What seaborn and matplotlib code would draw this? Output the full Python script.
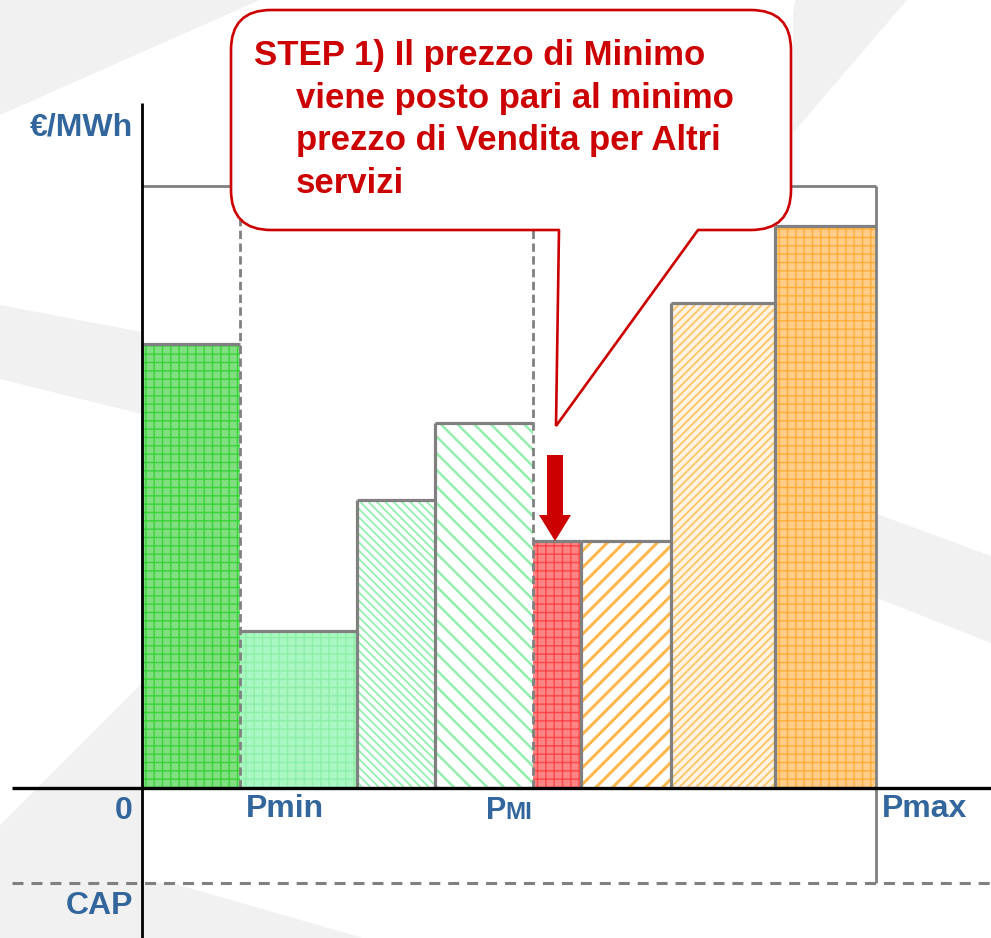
import numpy as np
import pandas as pd
import matplotlib
matplotlib.use("Agg")
import matplotlib.pyplot as plt
import seaborn as sns
from matplotlib.patches import Polygon, FancyBboxPatch, FancyArrow, Rectangle

# ---------------- data ----------------
edges = [0, 9.8, 21.5, 29.3, 39.1, 43.9, 52.9, 63.3, 73.4]          # MW (cumulative)
prices = [44.4, 15.7, 28.8, 36.5, 24.7, 24.7, 48.5, 56.2]            # €/MWh
face_colors = ['#80e080', '#abf7c2', '#ffffff', '#ffffff', '#ff8585', '#ffffff', '#fff3e2', '#ffcd88']
hatch_colors = ['#3ad23a', '#8cefa8', '#94efae', '#94efae', '#ff4545', '#ffb84d', '#ffc466', '#ffac35']
hatches = ['++', '++', '\\\\\\\\', '\\\\', '++', '//', '////', '++']
hatch_widths = [1.0, 1.0, 1.3, 1.8, 1.0, 2.2, 1.3, 1.0]
cap_top = 60.2
cap_floor = -9.5
x_labels = ['Pmin', 'Pmax']
unit_label = '€/MWh'
callout_lines = ['STEP 1) Il prezzo di Minimo', 'viene posto pari al minimo',
                 'prezzo di Vendita per Altri', 'servizi']

sns.set_theme(style='white')
plt.rcParams['font.family'] = ['Liberation Sans', 'DejaVu Sans']
plt.rcParams['hatch.linewidth'] = 1.0

fig = plt.figure(figsize=(9.91, 9.38), dpi=100)
ax = fig.add_axes([0, 0, 1, 1])
ax.set_xlim(-14.2, 84.9)
ax.set_ylim(-15.0, 78.8)
ax.set_axis_off()

# ---- light watermark swooshes ----
wm = '#f1f1f1'
for pts in [
    [(-14.2, 78.8), (11.8, 78.8), (-14.2, 67.3)],
    [(-14.2, 48.3), (0, 45.6), (73.5, 27.4), (84.9, 23.2), (84.9, 14.5), (73.5, 19.0), (0, 37.4), (-14.2, 40.9)],
    [(-14.2, -3.7), (1.0, 11.5), (3.0, -9.5), (22.1, -15.0), (-14.2, -15.0)],
    [(65.3, 78.8), (76.5, 78.8), (65.1, 65.5), (65.1, 77.3)],
]:
    ax.add_patch(Polygon(pts, closed=True, facecolor=wm, edgecolor='none', zorder=0))

# white chart area
ax.add_patch(Rectangle((edges[0], cap_floor), edges[-1] - edges[0], cap_top - cap_floor,
                       facecolor='white', edgecolor='none', zorder=0.5))

# ---- bars through seaborn (variable widths via histogram bins) ----
mids = [(a + b) / 2 for a, b in zip(edges[:-1], edges[1:])]
df = pd.DataFrame({'mw': mids, 'price': prices})
n_before = len(ax.patches)
sns.histplot(data=df, x='mw', weights='price', bins=edges, ax=ax, stat='count',
             element='bars', fill=True, linewidth=0, zorder=2)
bars = ax.patches[n_before:]
ax.set_xlim(-14.2, 84.9)
ax.set_ylim(-15.0, 78.8)
ax.set_axis_off()
for p, fc, hc, h, hw in zip(bars, face_colors, hatch_colors, hatches, hatch_widths):
    p.set_facecolor(fc)
    p.set_edgecolor(hc)
    p.set_hatch(h)
    p.set_linewidth(0)
    p.set_alpha(1)
    if hasattr(p, 'set_hatch_linewidth'):
        p.set_hatch_linewidth(hw)
    p.set_zorder(2)

grey = '#808080'
# bar tops
ax.hlines(prices, edges[:-1], edges[1:], colors=grey, linewidth=2.3, zorder=3)
# vertical edges between bars
pmin_i, pmi_i = 1, 4
for i in range(1, len(edges) - 1):
    hgt = max(prices[i - 1], prices[i])
    if i in (pmin_i, pmi_i):
        ax.vlines(edges[i], 0, cap_top, colors=grey, linewidth=2.0,
                  linestyles=(0, (3, 1.6)), zorder=3)
    else:
        ax.vlines(edges[i], 0, hgt, colors=grey, linewidth=2.3, zorder=3)
# outer box
ax.hlines(cap_top, edges[0], edges[-1], colors=grey, linewidth=2.0, zorder=3)
ax.vlines(edges[-1], cap_floor, cap_top, colors=grey, linewidth=2.0, zorder=3)
# CAP dashed line
ax.hlines(cap_floor, -13.0, 84.9, colors=grey, linewidth=2.2, linestyles=(0, (3.6, 2.6)), zorder=3)

# axes lines
ax.hlines(0, -13.0, 84.9, colors='black', linewidth=2.4, zorder=4)
ax.vlines(0, -15.0, 68.5, colors='black', linewidth=2.0, zorder=4)

# ---- labels ----
blue = '#33669c'
lab = dict(color=blue, fontweight='bold', fontsize=23, zorder=6)
ax.text(-0.9, 66.0, unit_label, ha='right', va='center', **lab)
ax.text(-0.9, -2.3, '0', ha='right', va='center', **lab)
ax.text(-0.9, -11.8, 'CAP', ha='right', va='center', **lab)
ax.text(edges[pmin_i] + 0.6, -2.1, x_labels[0], ha='left', va='center', **lab)
ax.text(edges[-1] + 0.6, -2.1, x_labels[1], ha='left', va='center', **lab)
# PMI with small caps "MI"
ax.text(edges[pmi_i] - 2.7, -3.1, 'P', ha='right', va='baseline', color=blue,
        fontweight='bold', fontsize=22, zorder=6)
ax.text(edges[pmi_i] - 0.1, -3.1, 'MI', ha='right', va='baseline', color=blue,
        fontweight='bold', fontsize=17.5, zorder=6)

# ---- red arrow pointing at the minimum offer ----
red = '#cc0000'
tip_x = (edges[4] + edges[5]) / 2 - 0.2
tip_y = prices[4]
ax.add_patch(FancyArrow(tip_x, tip_y + 8.6, 0, -8.6, width=1.6, head_width=3.2,
                        head_length=2.6, length_includes_head=True,
                        facecolor=red, edgecolor='none', zorder=7))

# ---- callout ----
bx0, bx1, by0, by1 = 8.9, 64.9, 55.8, 77.8
box = FancyBboxPatch((bx0 + 4, by0 + 4), (bx1 - bx0) - 8, (by1 - by0) - 8,
                     boxstyle='round,pad=4', facecolor='white', edgecolor=red,
                     linewidth=1.9, zorder=8)
ax.add_patch(box)
ptr_l, ptr_r = (41.7, by0), (55.6, by0)
ptr_tip = (41.4, 36.2)
ax.add_patch(Polygon([(ptr_l[0], by0 + 0.6), ptr_l, ptr_tip, ptr_r, (ptr_r[0], by0 + 0.6)],
                     closed=True, facecolor='white', edgecolor='none', zorder=9))
ax.plot([ptr_l[0], ptr_tip[0], ptr_r[0]], [ptr_l[1], ptr_tip[1], ptr_r[1]],
        color=red, linewidth=1.9, zorder=10, solid_joinstyle='miter')

txt = dict(color=red, fontweight='bold', fontsize=25, va='baseline', ha='left', zorder=11)
ax.text(11.2, 72.3, callout_lines[0], **txt)
for ln, yb in zip(callout_lines[1:], [68.0, 63.8, 59.5]):
    ax.text(15.4, yb, ln, **txt)

fig.savefig('out.png', dpi=100)
